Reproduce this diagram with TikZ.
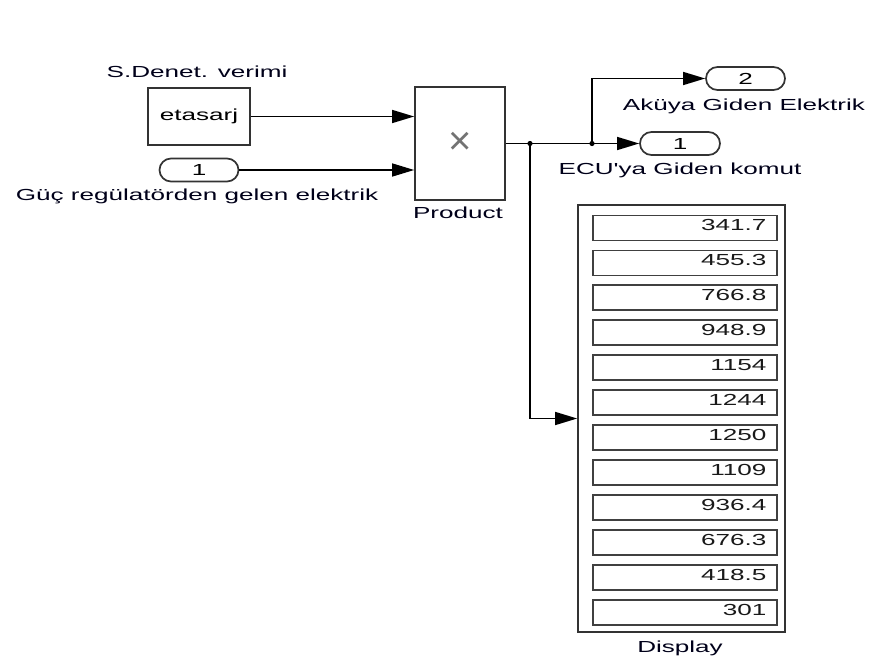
\documentclass[tikz,border=0pt]{standalone}
\usepackage{fontspec}
\newfontfamily\simfont[FakeStretch=1.63]{Liberation Sans}
\newfontfamily\plainfont{Liberation Sans}
\usetikzlibrary{
	arrows.meta,
	positioning,
	calc,
}
\tikzset{block/.style={
		% The shape:
		rectangle,
		% The border:
		line width=1.7pt,
		draw=black!80,
		fill=white,
		% The text:
		font=\simfont\fontsize{16}{19}\selectfont,
}}
\tikzset{port/.style={
		% The shape:
		rectangle,rounded corners=11.5pt,
		% The size:
		minimum width=79pt,minimum height=23pt,
		% The rest
		line width=1.7pt,draw=black!80,fill=white,
		font=\simfont\fontsize{16}{19}\selectfont,
}}
\tikzset{reading/.style={
		% The shape:
		rectangle,
		% The size:
		minimum height=25pt,text width=163pt,inner xsep=10.5pt,
		% The rest
		line width=1.9pt,draw=black!75,
		align=right,
		font=\simfont\fontsize{16}{19}\selectfont,
		text=black!90,
		% make sure text aligns properly 
		text height=1.5ex,text depth=.25ex,
}}
\tikzset{tag/.style={
		inner sep=0pt,
		font=\simfont\fontsize{16}{19}\selectfont,
		text=blue!10!black,
		% make sure text aligns properly 
		text height=1.5ex,text depth=.25ex,
}}

\begin{document}
\begin{tikzpicture}[x=1pt,y=-1pt,>={Triangle[length=22pt,width=13pt]},line width=1.5pt,
	every new ->/.style={shorten >=0pt}]
	\useasboundingbox (0,0) rectangle (869,666);
	% sources
	\node [block,minimum width=102pt,minimum height=57pt] (etasarj) at (199,116.5) {etasarj};
	\node [tag] (lblverimi) at (197,75) {S.Denet. verimi};
	\node [port] (gucin) at (199,170) {1};
	\node [tag] (lblguc) at (197,198) {Güç regülatörden gelen elektrik};
	% product
	\node [block,minimum width=90pt,minimum height=113pt] (product) at (460,143.5) {};
	\node [text=black!55,font=\plainfont\fontsize{40}{40}\selectfont] (times) at (product.center) {×};
	\node [tag] (lblproduct) at (458,216) {Product};
	% outports
	\node [port,minimum width=80pt] (ecuout) at (680,143.5) {1};
	\node [tag] (lblecu) at (680,172) {ECU'ya Giden komut};
	\node [port] (akuout) at (745.5,78.5) {2};
	\node [tag] (lblaku) at (744,108) {Aküya Giden Elektrik};
	% display
	\node [block,minimum width=207pt,minimum height=427pt] (display) at (681.5,418.5) {};
	\foreach \val [count=\k] in {341.7,455.3,766.8,948.9,1154,1244,1250,1109,936.4,676.3,418.5,301}
		\node [reading] (d\k) at (685,{228+34.95*(\k-1)}) {\val};
	\node [tag] (lbldisplay) at (680,650) {Display};
	% wiring
	\coordinate (splitA) at (530,143.5);
	\coordinate (splitB) at (592,143.5);
	\draw [->] (etasarj) -- (product.west |- etasarj);
	\draw [->] (gucin) -- (product.west |- gucin);
	\draw (product.east) -- (splitA) -- (splitB);
	\draw [->] (splitB) -- (ecuout);
	\draw [->] (splitB) |- (akuout);
	\draw [->] (splitA) |- (display.west);
	\fill (splitA) circle (2.6pt);
	\fill (splitB) circle (2.6pt);
\end{tikzpicture}
\end{document}
